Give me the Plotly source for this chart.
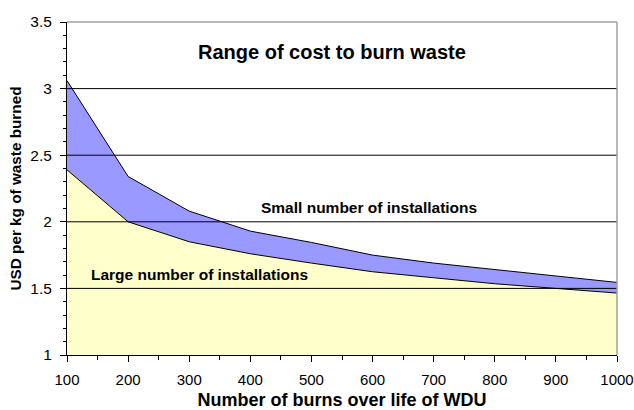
import plotly.graph_objects as go

burns = [100, 200, 300, 400, 500, 600, 700, 800, 900, 1000]
cost_large = [2.39, 2.00, 1.85, 1.76, 1.69, 1.625, 1.58, 1.535, 1.50, 1.465]
cost_small = [3.06, 2.34, 2.08, 1.93, 1.845, 1.75, 1.69, 1.64, 1.59, 1.545]
grid_levels = [1.5, 2.0, 2.5, 3.0]

FONT = "Liberation Sans, Arial, sans-serif"

fig = go.Figure()
fig.add_trace(go.Scatter(
    x=burns, y=cost_large, mode="lines", fill="tozeroy",
    fillcolor="#FFFFCC", line=dict(color="black", width=1),
    showlegend=False, hoverinfo="skip"))
fig.add_trace(go.Scatter(
    x=burns, y=cost_small, mode="lines", fill="tonexty",
    fillcolor="#9999FF", line=dict(color="black", width=1),
    showlegend=False, hoverinfo="skip"))

shapes = []
for g in grid_levels:
    shapes.append(dict(type="line", xref="paper", yref="y", x0=0, x1=1, y0=g, y1=g,
                       line=dict(color="black", width=1), layer="above"))
# top & right border in grey
shapes.append(dict(type="line", xref="paper", yref="paper", x0=0, x1=1, y0=1, y1=1,
                   line=dict(color="#A0A0A0", width=1.5), layer="above"))
shapes.append(dict(type="line", xref="paper", yref="paper", x0=1, x1=1, y0=0, y1=1,
                   line=dict(color="#A0A0A0", width=1.5), layer="above"))

fig.update_layout(
    width=634, height=410,
    margin=dict(l=67, r=17, t=22, b=55),
    paper_bgcolor="white", plot_bgcolor="white",
    font=dict(family=FONT, color="black", size=15),
    shapes=shapes,
    annotations=[
        dict(text="<b>Range of cost to burn waste</b>", x=0.481, y=3.275, xref="paper", yref="y",
             showarrow=False, font=dict(size=20, family=FONT)),
        dict(text="<b>Small number of installations</b>", x=594, y=2.105, xref="x", yref="y",
             showarrow=False, font=dict(size=15.5, family=FONT)),
        dict(text="<b>Large number of installations</b>", x=316, y=1.606, xref="x", yref="y",
             showarrow=False, font=dict(size=15.5, family=FONT)),
    ],
    xaxis=dict(
        range=[100, 1000], tickvals=burns, ticks="outside", ticklen=6, tickcolor="black",
        showline=True, linecolor="black", linewidth=1, showgrid=False, zeroline=False,
        automargin=False, ticklabelstandoff=5,
        minor=dict(ticks="outside", ticklen=4, dtick=50, tickcolor="black", showgrid=False),
        tickfont=dict(size=15),
        title=dict(text="<b>Number of burns over life of WDU</b>", font=dict(size=18), standoff=11),
    ),
    yaxis=dict(
        range=[1, 3.5], dtick=0.5, ticks="outside", ticklen=6, tickcolor="black",
        showline=True, linecolor="black", linewidth=1, showgrid=False, zeroline=False,
        automargin=False, ticklabelstandoff=5,
        minor=dict(ticks="outside", ticklen=3, dtick=0.1, tickcolor="black", showgrid=False),
        tickfont=dict(size=15.5),
        title=dict(text="<b>USD per kg of waste burned</b>", font=dict(size=15.3), standoff=4),
    ),
)

fig.write_html("out.html", config={"displayModeBar": False},
               post_script="document.body.style.margin='0';")
